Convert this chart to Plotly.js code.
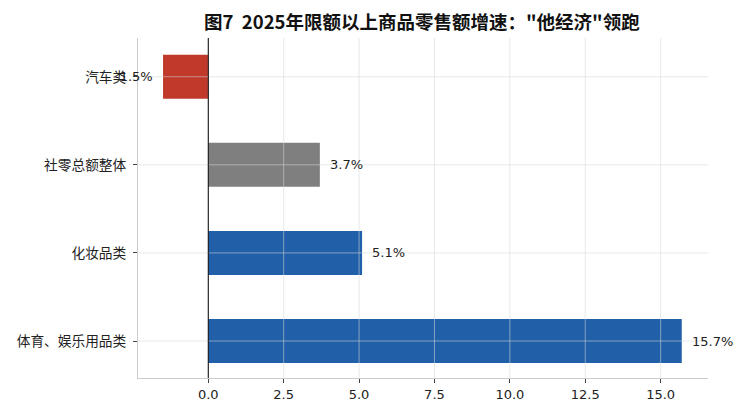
<!DOCTYPE html>
<html>
<head>
<meta charset="utf-8">
<script src="https://cdn.plot.ly/plotly-3.0.1.min.js"></script>
<style>body{margin:0;background:#fff}#chart{width:750px;height:408px}</style>
</head>
<body>
<div id="chart"></div>
<script>
// categories bottom -> top
let categories = ['体育、娱乐用品类', '化妆品类', '社零总额整体', '汽车类'];
let growth = [15.7, 5.1, 3.7, -1.5];
let barColors = ['#2160a8', '#2160a8', '#7f7f7f', '#c0392b'];
let xTicks = [0, 2.5, 5, 7.5, 10, 12.5, 15];
let xTickText = ['0.0', '2.5', '5.0', '7.5', '10.0', '12.5', '15.0'];

let fontFam = 'DejaVu Sans, Noto Sans CJK SC, sans-serif';
let xRange = [-2.33, 16.57];
let yRange = [-0.42, 3.44];

let trace = {
    type: 'bar',
    orientation: 'h',
    y: categories,
    x: growth,
    width: 0.5,
    marker: {color: barColors, line: {width: 0}},
    hoverinfo: 'none'
};

// value labels next to bar ends
let annotations = growth.map((v, i) => ({
    x: v >= 0 ? v + 0.27 : v - 0.27,
    y: categories[i],
    xref: 'x', yref: 'y',
    text: v.toFixed(1) + '%',
    showarrow: false,
    xanchor: v >= 0 ? 'left' : 'right',
    yanchor: 'middle',
    font: {family: fontFam, size: 13, color: '#222'}
}));

// grid drawn on top of bars, like the original
let gridColor = 'rgba(215,215,215,0.55)';
let shapes = [];
xTicks.forEach(t => shapes.push({
    type: 'line', layer: 'above', xref: 'x', yref: 'paper',
    x0: t, x1: t, y0: 0, y1: 1,
    line: {color: gridColor, width: 1}
}));
categories.forEach(c => shapes.push({
    type: 'line', layer: 'above', xref: 'paper', yref: 'y',
    x0: 0, x1: 1, y0: c, y1: c,
    line: {color: gridColor, width: 1}
}));
// zero line
shapes.push({
    type: 'line', layer: 'above', xref: 'x', yref: 'paper',
    x0: 0, x1: 0, y0: 0, y1: 1,
    line: {color: '#000', width: 1}
});

let layout = {
    width: 750,
    height: 408,
    margin: {l: 138, r: 42, t: 38, b: 30},
    paper_bgcolor: '#fff',
    plot_bgcolor: '#fff',
    font: {family: fontFam, size: 13, color: '#222'},
    title: {
        text: '<b>图7  2025年限额以上商品零售额增速："他经济"领跑</b>',
        font: {family: 'Noto Sans CJK SC, sans-serif', size: 18.5, color: '#111'},
        x: 0.5625, xanchor: 'center', y: 0.945, yanchor: 'middle'
    },
    showlegend: false,
    xaxis: {
        range: xRange,
        tickvals: xTicks,
        ticktext: xTickText,
        showgrid: false,
        zeroline: false,
        showline: true,
        linecolor: '#cccccc',
        linewidth: 1,
        ticks: 'outside',
        ticklen: 4,
        tickcolor: '#444',
        tickfont: {family: fontFam, size: 13, color: '#222'}
    },
    yaxis: {
        range: yRange,
        showgrid: false,
        zeroline: false,
        showline: true,
        linecolor: '#cccccc',
        linewidth: 1,
        ticks: 'outside',
        ticklen: 4,
        tickcolor: '#444',
        ticklabelstandoff: 4,
        tickfont: {family: 'Noto Sans CJK SC, sans-serif', size: 13.7, color: '#222'}
    },
    annotations: annotations,
    shapes: shapes
};

Plotly.newPlot('chart', [trace], layout, {displayModeBar: false, staticPlot: true});
</script>
</body>
</html>
